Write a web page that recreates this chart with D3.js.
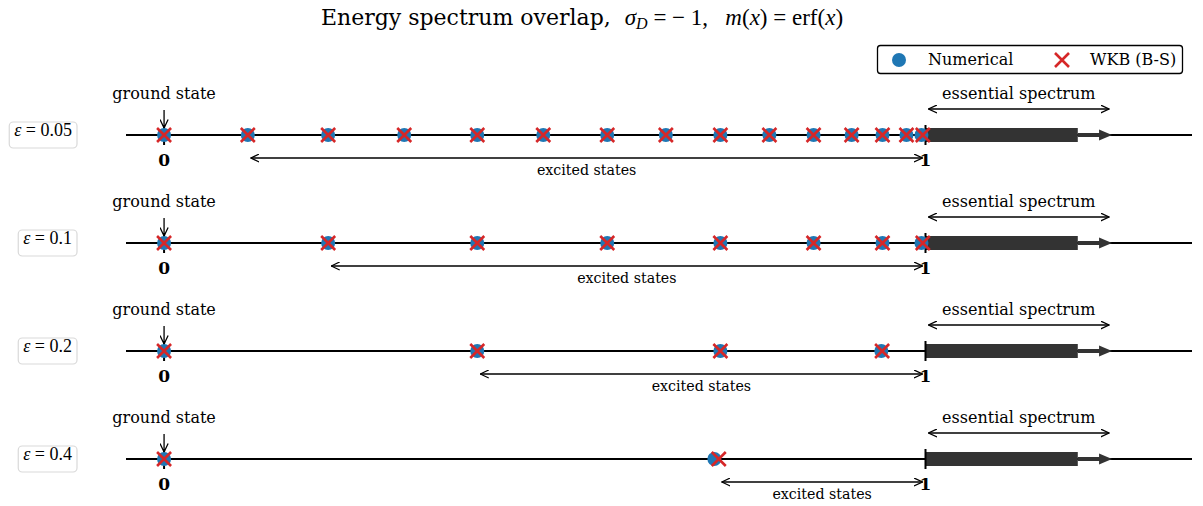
<!DOCTYPE html>
<html>
<head>
<meta charset="utf-8">
<script src="https://cdn.jsdelivr.net/npm/d3@7"></script>
<style>
  body { margin: 0; background: #fff; }
  text { font-family: "DejaVu Serif", serif; }
</style>
</head>
<body>
<div id="chart"></div>
<script>
// epsilon values, one row each
const epsilons = ["0.05", "0.1", "0.2", "0.4"];

// eigenvalues (numerical solver)
const numerical005 = [0, 0.110, 0.2155, 0.3154, 0.4113, 0.498, 0.582, 0.659, 0.7306, 0.795, 0.853, 0.903, 0.9435, 0.975, 0.9947];
const numerical01 = [0, 0.2155, 0.4113, 0.582, 0.7306, 0.853, 0.9435, 0.9947];
const numerical02 = [0, 0.4113, 0.7306, 0.9420];
const numerical04 = [0, 0.7227];

// WKB (Bohr-Sommerfeld) estimates
const wkb005 = [0, 0.110, 0.2155, 0.3154, 0.4113, 0.498, 0.582, 0.659, 0.7306, 0.795, 0.853, 0.903, 0.9435, 0.975, 0.9965];
const wkb01 = [0, 0.2155, 0.4113, 0.582, 0.7306, 0.853, 0.9435, 0.9965];
const wkb02 = [0, 0.4113, 0.7306, 0.9430];
const wkb04 = [0, 0.7285];

const essentialStart = 1.0;
const barEnd = 1.2;
const essentialEnd = 1.245;

const numericalSets = [numerical005, numerical01, numerical02, numerical04];
const wkbSets = [wkb005, wkb01, wkb02, wkb04];
const rows = epsilons.map((e, i) => ({ eps: e, num: numericalSets[i], wkb: wkbSets[i] }));

const WIDTH = 1203, HEIGHT = 506;
const BLUE = "#1f77b4", RED = "#d62728", DARK = "#333333";
const LABEL_SIZE = "16px";

const x = d3.scaleLinear().domain([-0.05, 1.35]).range([126, 1192]);
const y = d3.scalePoint().domain(epsilons).range([135, 459]);

const svg = d3.select("#chart")
    .append("svg")
    .attr("width", WIDTH)
    .attr("height", HEIGHT);

// open chevron arrow head
const defs = svg.append("defs");
defs.append("marker")
    .attr("id", "chev")
    .attr("viewBox", "0 0 10 10")
    .attr("refX", 9.5)
    .attr("refY", 5)
    .attr("markerUnits", "userSpaceOnUse")
    .attr("markerWidth", 9)
    .attr("markerHeight", 9)
    .attr("orient", "auto-start-reverse")
    .append("path")
    .attr("d", "M0,0.5 L9.5,5 L0,9.5")
    .attr("fill", "none")
    .attr("stroke", "#000")
    .attr("stroke-width", 1.4);

// title (white-space: pre keeps the wide gaps between parts)
const title = svg.append("text")
    .attr("x", 582)
    .attr("y", 25)
    .attr("text-anchor", "middle")
    .style("white-space", "pre")
    .style("font-size", "22px");
title.append("tspan").text("Energy spectrum overlap,  ");
const mathT = (sel, txt, italic) => sel.append("tspan")
    .style("font-family", "'Liberation Serif', serif")
    .style("font-style", italic ? "italic" : "normal")
    .style("font-size", "23px")
    .text(txt);
mathT(title, "σ", true);
title.append("tspan").attr("dy", 4).style("font-family", "'Liberation Serif', serif")
    .style("font-style", "italic").style("font-size", "16px").text("D");
title.append("tspan").attr("dy", -4).style("font-family", "'Liberation Serif', serif")
    .style("font-size", "23px").text(" = − 1,   ");
mathT(title, "m", true);
mathT(title, "(", false);
mathT(title, "x", true);
mathT(title, ") = erf(", false);
mathT(title, "x", true);
mathT(title, ")", false);

// legend
const legend = svg.append("g");
legend.append("rect")
    .attr("x", 877.5).attr("y", 45.5)
    .attr("width", 305).attr("height", 28)
    .attr("rx", 3)
    .attr("fill", "#fff")
    .attr("stroke", "#000")
    .attr("stroke-width", 1.3);
legend.append("circle").attr("cx", 899).attr("cy", 60).attr("r", 7).attr("fill", BLUE);
legend.append("text").attr("x", 928).attr("y", 65).style("font-size", LABEL_SIZE).text("Numerical");
legend.append("path")
    .attr("d", "M1055,53 L1069,67 M1055,67 L1069,53")
    .attr("stroke", RED).attr("stroke-width", 2.6);
legend.append("text").attr("x", 1090).attr("y", 65).style("font-size", LABEL_SIZE).text("WKB (B-S)");

rows.forEach(row => {
    const g = svg.append("g").attr("transform", `translate(0,${y(row.eps)})`);

    // base axis line
    g.append("line")
        .attr("x1", x.range()[0]).attr("x2", x.range()[1])
        .attr("y1", 0).attr("y2", 0)
        .attr("stroke", "#000").attr("stroke-width", 1.8);

    // essential spectrum bar + arrow
    g.append("rect")
        .attr("x", x(essentialStart)).attr("y", -7)
        .attr("width", x(barEnd) - x(essentialStart)).attr("height", 14)
        .attr("fill", DARK);
    g.append("rect")
        .attr("x", x(barEnd)).attr("y", -2)
        .attr("width", x(essentialEnd) - 12 - x(barEnd)).attr("height", 4)
        .attr("fill", DARK);
    g.append("path")
        .attr("d", `M${x(essentialEnd) - 13},-5.5 L${x(essentialEnd)},0 L${x(essentialEnd) - 13},5.5 Z`)
        .attr("fill", DARK);

    // ticks at 0 and 1
    [0, 1].forEach(v => {
        g.append("line")
            .attr("x1", x(v)).attr("x2", x(v))
            .attr("y1", -10).attr("y2", 10)
            .attr("stroke", "#000").attr("stroke-width", 2);
        g.append("text")
            .attr("x", x(v)).attr("y", 31)
            .attr("text-anchor", "middle")
            .style("font-size", "17px")
            .style("font-weight", "bold")
            .text(v);
    });

    // points
    g.selectAll("circle.num")
        .data(row.num)
        .enter()
        .append("circle")
        .attr("cx", d => x(d)).attr("cy", 0).attr("r", 7)
        .attr("fill", BLUE);
    g.selectAll("path.wkb")
        .data(row.wkb)
        .enter()
        .append("path")
        .attr("d", d => `M${x(d) - 7},-7 L${x(d) + 7},7 M${x(d) - 7},7 L${x(d) + 7},-7`)
        .attr("stroke", RED).attr("stroke-width", 2.6);

    // ground state
    g.append("line")
        .attr("x1", x(0)).attr("x2", x(0))
        .attr("y1", -25).attr("y2", -7)
        .attr("stroke", "#000").attr("stroke-width", 1.3)
        .attr("marker-end", "url(#chev)");
    g.append("text")
        .attr("x", x(0)).attr("y", -36)
        .attr("text-anchor", "middle")
        .style("font-size", LABEL_SIZE)
        .text("ground state");

    // essential spectrum annotation
    g.append("line")
        .attr("x1", x(essentialStart) + 3).attr("x2", x(essentialEnd) - 3)
        .attr("y1", -26).attr("y2", -26)
        .attr("stroke", "#000").attr("stroke-width", 1.3)
        .attr("marker-start", "url(#chev)")
        .attr("marker-end", "url(#chev)");
    g.append("text")
        .attr("x", (x(essentialStart) + x(essentialEnd)) / 2).attr("y", -36)
        .attr("text-anchor", "middle")
        .style("font-size", LABEL_SIZE)
        .text("essential spectrum");

    // excited states annotation
    const first = row.wkb[1];
    g.append("line")
        .attr("x1", x(first) + 3).attr("x2", x(1) - 3)
        .attr("y1", 23).attr("y2", 23)
        .attr("stroke", "#000").attr("stroke-width", 1.3)
        .attr("marker-start", "url(#chev)")
        .attr("marker-end", "url(#chev)");
    g.append("text")
        .attr("x", (x(first) + x(1)) / 2).attr("y", 40)
        .attr("text-anchor", "middle")
        .style("font-size", "14.2px")
        .text("excited states");

    // epsilon label box
    const lab = g.append("text")
        .attr("x", 72).attr("y", 1)
        .attr("text-anchor", "end")
        .style("font-family", "'Liberation Serif', serif")
        .style("font-size", "18px");
    lab.append("tspan").style("font-style", "italic").text("ε");
    lab.append("tspan").text(" = " + row.eps);
    const bb = lab.node().getBBox();
    g.insert("rect", "text")
        .attr("x", bb.x - 5).attr("y", -13)
        .attr("width", bb.width + 10).attr("height", 26)
        .attr("rx", 4)
        .attr("fill", "#fff")
        .attr("stroke", "#d9d9d9")
        .attr("stroke-width", 1.2);
});
</script>
</body>
</html>
